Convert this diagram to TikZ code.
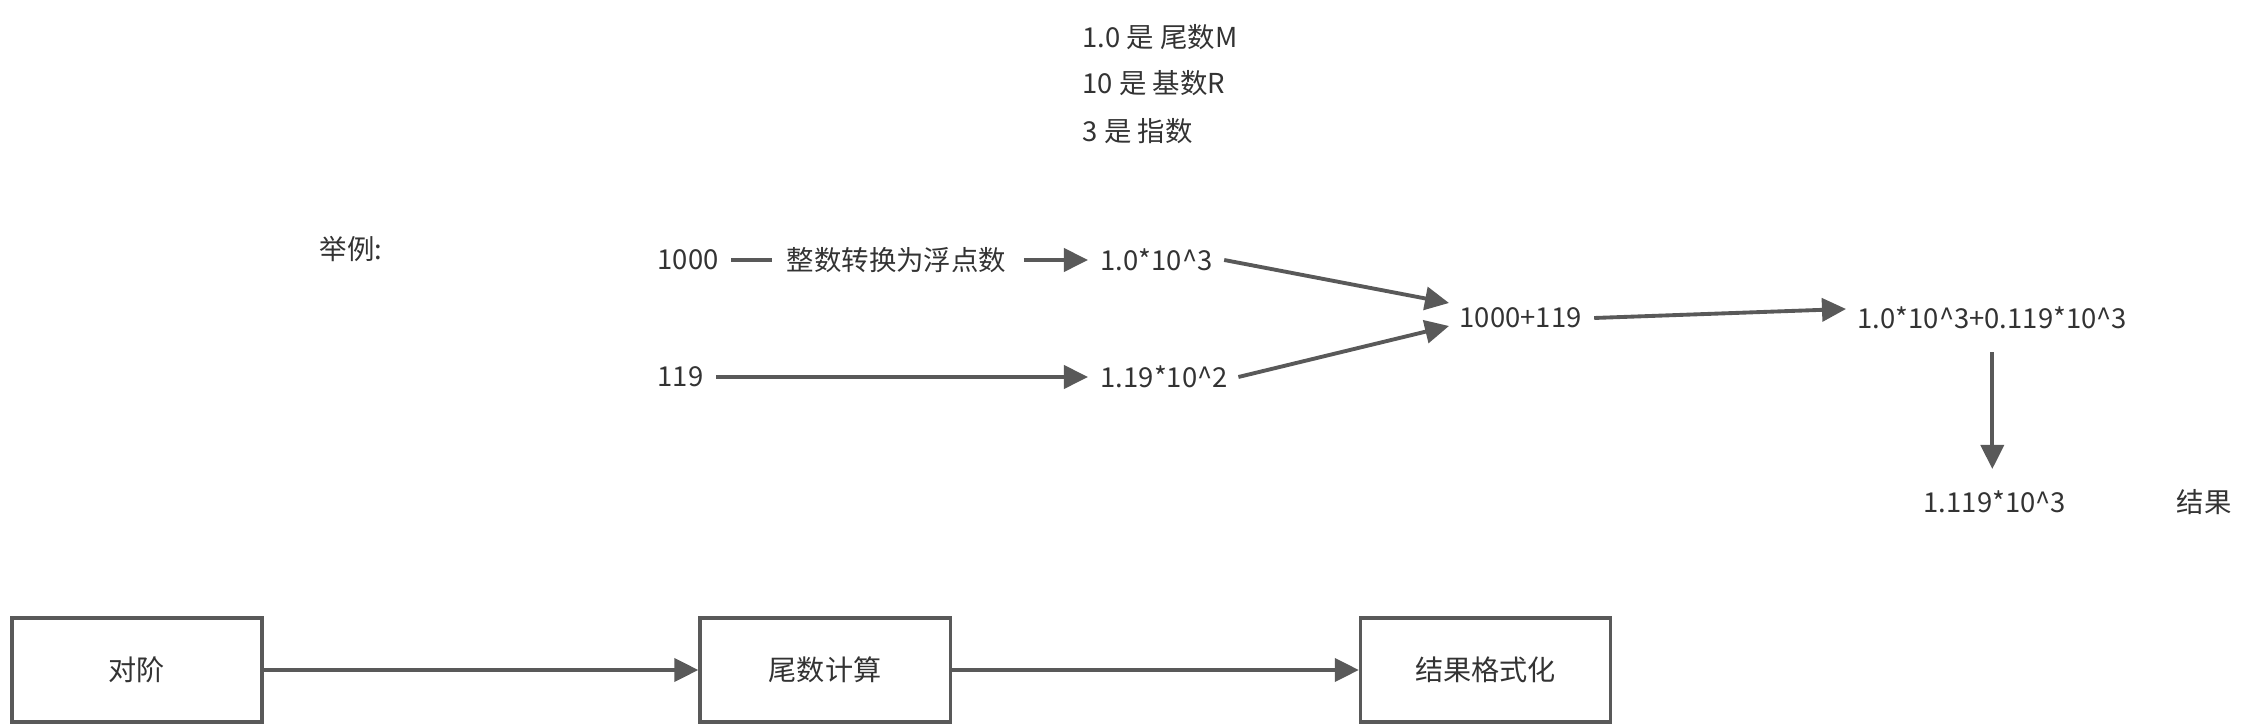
\documentclass[tikz,border=0pt]{standalone}
\usepackage{fontspec}
\setmainfont{Noto Sans CJK SC}
\usetikzlibrary{arrows.meta}
\definecolor{txtgray}{HTML}{333333}
\definecolor{lngray}{HTML}{595959}

\begin{document}
\begin{tikzpicture}[x=0.01cm,y=-0.01cm,
	txt/.style={anchor=west,inner sep=0pt,text=txtgray,font=\fontsize{7.8}{10}\selectfont},
	ln/.style={draw=lngray,line width=1.1pt},
	arr/.style={ln,-{Triangle[length=2.4mm,width=2.3mm]}},
	box/.style={draw=lngray,line width=0.9pt,minimum width=2.5cm,minimum height=1.04cm,text=txtgray,font=\fontsize{8}{10}\selectfont}]
	\useasboundingbox (0,0) rectangle (2254,728);
	
	%notes (M, R, exponent)
	\node[txt] (mant) at (1082,37) {1.0 是 尾数M};
	\node[txt] (radix) at (1082,83) {10 是 基数R};
	\node[txt] (expo) at (1082,131) {3 是 指数};
	\node[txt] (eg) at (319,249) {举例:};
	
	%the two numbers
	\node[txt] (n1000) at (657,260) {1000};
	\node[txt] (conv) at (786,260) {整数转换为浮点数};
	\node[txt] (f1) at (1100,260) {1.0*10\textasciicircum 3};
	\node[txt] (n119) at (657,377) {119};
	\node[txt] (f2) at (1100,377) {1.19*10\textasciicircum 2};
	\draw[ln,shorten <=0.12cm,shorten >=0.14cm] (n1000.east) -- (conv.west);
	\draw[arr,shorten <=0.17cm,shorten >=0.12cm] (conv.east) -- (f1.west);
	\draw[arr,shorten <=0.12cm,shorten >=0.12cm] (n119.east) -- (f2.west);
	
	%sum
	\node[txt] (sum) at (1459,318) {1000+119};
	\draw[arr] ([xshift=0.11cm]f1.east) -- ([xshift=-0.1cm,yshift=0.15cm]sum.west);
	\draw[arr] ([xshift=0.1cm]f2.east) -- ([xshift=-0.1cm,yshift=-0.08cm]sum.west);
	
	%aligned sum and result
	\node[txt] (big) at (1857,318) {1.0*10\textasciicircum 3+0.119*10\textasciicircum 3};
	\draw[arr] ([xshift=0.12cm]sum.east) -- ([xshift=-0.11cm,yshift=0.09cm]big.west);
	\node[txt] (res) at (1923,502) {1.119*10\textasciicircum 3};
	\node[txt] (reslbl) at (2176,502) {结果};
	\draw[arr,shorten <=0.34cm,shorten >=0.33cm] (big.center) -- (big.center |- res.center);
	
	%steps
	\node[box] (align) at (137,670) {对阶};
	\node[box] (mcalc) at (825,670) {尾数计算};
	\node[box] (fmt) at (1485.5,670) {结果格式化};
	\draw[arr] (align) -- (mcalc);
	\draw[arr] (mcalc) -- (fmt);
\end{tikzpicture}
\end{document}
